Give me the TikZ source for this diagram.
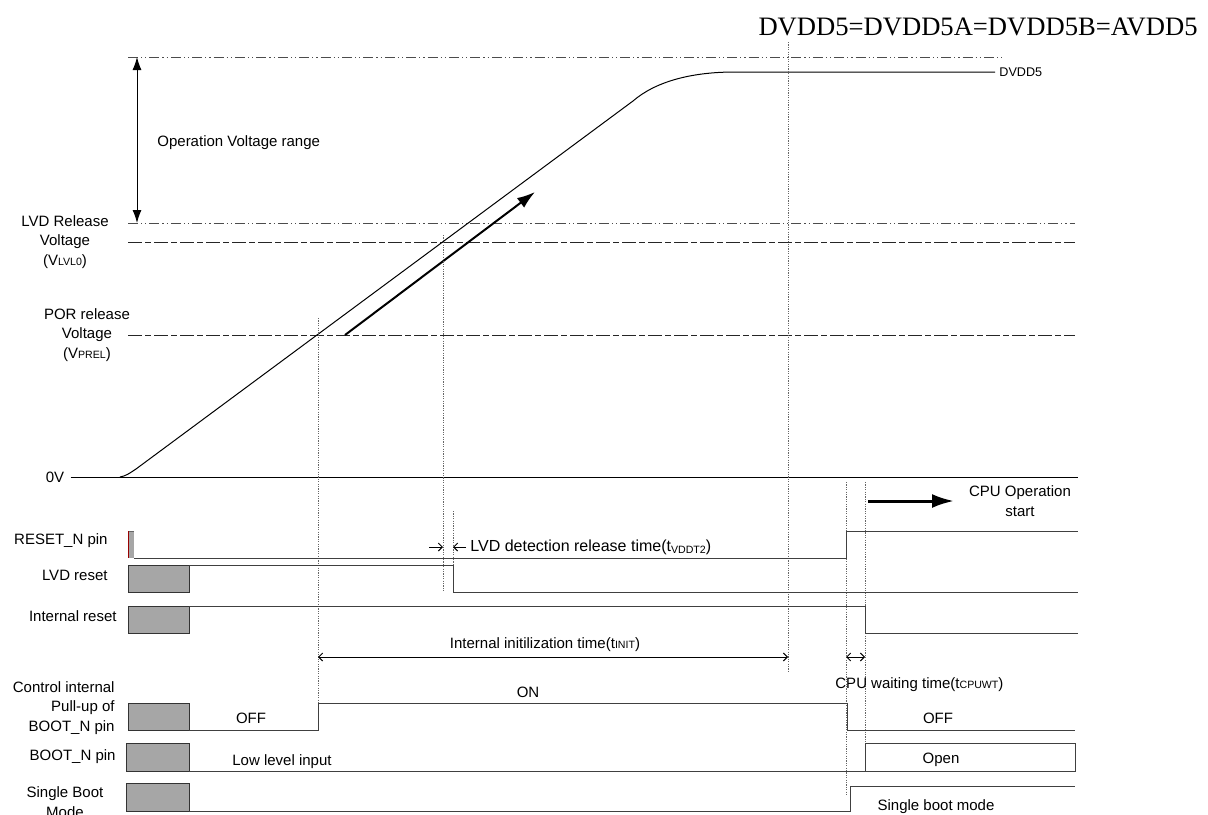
\documentclass[tikz,border=0pt]{standalone}
\usepackage{fontspec}
\setmainfont{Liberation Sans}
\newfontfamily\titlefont{Liberation Serif}
\usepackage{tikz}
\usetikzlibrary{arrows.meta}
\newcommand{\smtxt}[1]{{\fontsize{5.3}{6}\selectfont #1}}
\tikzstyle{lbl} = [inner sep=0pt, 
font=\fontsize{7.5}{9.75}\selectfont]
\tikzstyle{rowlbl} = [lbl, 
anchor=east, 
align=right]
\tikzstyle{sig} = [line width=0.5pt, 
draw=black!75]
\tikzstyle{gbox} = [line width=0.5pt, 
draw=black!80, 
fill=black!35]
\tikzstyle{vdot} = [line width=0.5pt, 
draw=black!60, 
dash pattern=on 0.6pt off 0.6pt]
\tikzstyle{lvlone} = [line width=0.5pt, 
draw=black!70, 
dash pattern=on 5pt off 1.5pt on 0.6pt off 1.5pt on 0.6pt off 1.5pt]
\tikzstyle{lvltwo} = [line width=0.5pt, 
draw=black!85, 
dash pattern=on 7pt off 1.5pt on 3pt off 1.5pt]
\tikzstyle{timespan} = [line width=0.5pt, 
{Straight Barb[length=2pt,width=4pt]}-{Straight Barb[length=2pt,width=4pt]}]
\tikzstyle{bigarrow} = [line width=1pt, -{Latex[length=9pt,width=6pt]}]

\begin{document}
\begin{tikzpicture}[x=0.5pt, y=-0.5pt]
\useasboundingbox (0,0) rectangle (1208,814);

\node (title) [anchor=base east, inner sep=0pt, font=\titlefont\fontsize{13.3}{14}\selectfont] at (1198,35) {DVDD5=DVDD5A=DVDD5B=AVDD5};

% voltage levels
\draw [lvlone] (128,57) -- (1005,57);
\draw [lvlone] (128,223) -- (1075,223);
\draw [lvltwo] (128,242) -- (1075,242);
\draw [lvltwo] (128,335) -- (1075,335);

\node (oprange) [lbl, anchor=west] at (157,143) {Operation Voltage range};
\node (lvdtxt) [lbl, align=center] at (65,242) {LVD Release\\Voltage\\(V\smtxt{LVL0})};
\node (portxt) [lbl, align=center] at (87,335) {POR release\\Voltage\\(V\smtxt{PREL})};
\node (zero) [lbl] at (55,477) {0V};
\coordinate (zeroend) at (1078,477);
\draw [line width=0.5pt] (zero.east) ++(6,0) -- (zeroend);

\coordinate (vtop) at (137,57);
\coordinate (vbot) at (137,223);
\draw [line width=0.5pt, {Latex[length=6.5pt,width=4.5pt]}-{Latex[length=6.5pt,width=4.5pt]}] (vtop) -- (vbot);

% supply ramp
\draw [line width=0.5pt] (120,477) .. controls (126,476) and (130,473) .. (136,469) -- (633,101) .. controls (655,82) and (690,72) .. (735,72) -- (995,72);
\node (dvdd) [lbl, anchor=west, font=\fontsize{6.3}{7}\selectfont] at (999,72) {DVDD5};
\coordinate (rampa) at (345,335);
\coordinate (rampb) at (535,192);
\draw [bigarrow] (rampa) -- (rampb);

% timing marks
\draw [vdot] (318,318) -- (318,703);
\draw [vdot] (443,235) -- (443,592);
\draw [vdot] (453,511) -- (453,565);
\draw [vdot] (788,42) -- (788,672);
\draw [vdot] (846,482) -- (846,795);
\draw [vdot] (865,482) -- (865,743);

% signals
\node (rstlbl) [rowlbl] at (108,541) {RESET\_N pin};
\fill [black!35] (128,531) rectangle (134,558);
\draw [black!60] (134,531) -- (128,531);
\draw [red!60!black, line width=0.5pt] (128,531) -- (128,558);
\draw [sig] (134,558) -- (846,558) -- (846,531) -- (1078,531);

\node (lvdlbl) [rowlbl] at (108,575) {LVD reset};
\draw [gbox] (128,565) rectangle (189,592);
\draw [sig] (189,565) -- (453,565) -- (453,592) -- (1078,592);

\node (intlbl) [rowlbl] at (117,616) {Internal reset};
\draw [gbox] (128,606) rectangle (189,633);
\draw [sig] (189,606) -- (865,606) -- (865,633) -- (1078,633);

\node (puplbl) [rowlbl] at (115,708) {Control internal\\Pull-up of\\BOOT\_N pin};
\draw [gbox] (128,703) rectangle (189,730);
\draw [sig] (189,730) -- (318,730) -- (318,703) -- (847,703) -- (847,730) -- (1075,730);
\node (offa) [lbl] at (251,718) {OFF};
\node (on) [lbl] at (528,692) {ON};
\node (offb) [lbl] at (938,718) {OFF};

\node (bootlbl) [rowlbl] at (116,757) {BOOT\_N pin};
\draw [gbox] (126,743) rectangle (189,771);
\draw [sig] (189,771) -- (1075,771);
\draw [sig] (865,771) rectangle (1075,743);
\node (lowin) [lbl] at (282,762) {Low level input};
\node (open) [lbl] at (941,760) {Open};

\node (sblbl) [lbl, align=center] at (65,802) {Single Boot\\Mode};
\draw [gbox] (126,783) rectangle (189,811);
\draw [sig] (189,811) -- (850,811) -- (850,786) -- (1075,786);
\node (sbmode) [lbl] at (936,807) {Single boot mode};

% times
\coordinate (inita) at (318,657);
\coordinate (initb) at (788,657);
\draw [timespan] (inita) -- (initb);
\node (inittxt) [lbl] at (545,645) {Internal initilization time(t\smtxt{INIT})};

\coordinate (cpua) at (846,657);
\coordinate (cpub) at (865,657);
\draw [timespan] (cpua) -- (cpub);
\node (cputxt) [lbl, anchor=west] at (835,685) {CPU waiting time(t\smtxt{CPUWT})};

\coordinate (deta) at (429,547);
\coordinate (detb) at (443,547);
\coordinate (detc) at (466,547);
\coordinate (detd) at (453,547);
\draw [line width=0.5pt, -{Straight Barb[length=2pt,width=4pt]}] (deta) -- (detb);
\draw [line width=0.5pt, -{Straight Barb[length=2pt,width=4pt]}] (detc) -- (detd);
\node (lvddet) [lbl, anchor=west, font=\fontsize{8}{9}\selectfont] at (470,547) {LVD detection release time(t\raisebox{-1pt}{\smtxt{VDDT2}})};

\node (cpuop) [lbl, align=center] at (1020,501) {CPU Operation\\start};
\coordinate (opa) at (868,501);
\coordinate (opb) at (954,501);
\draw [line width=1.5pt, -{Latex[length=11pt,width=7pt]}] (opa) -- (opb);

\end{tikzpicture}
\end{document}
